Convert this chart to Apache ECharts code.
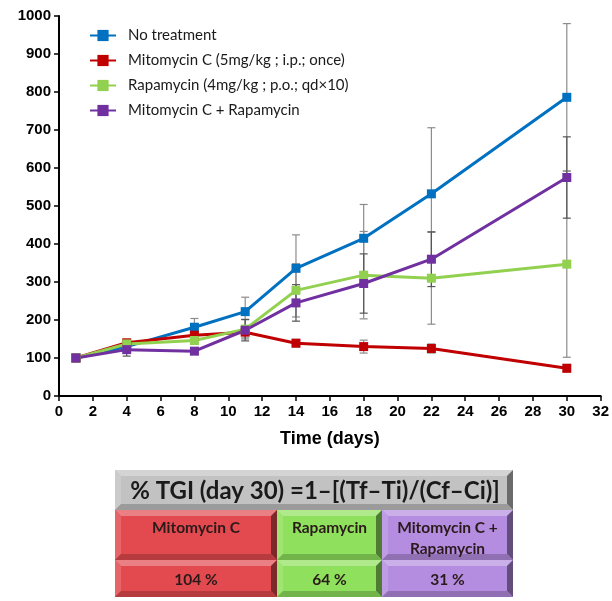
<!DOCTYPE html>
<html>
<head>
<meta charset="utf-8">
<script src="https://cdn.jsdelivr.net/npm/echarts@6/dist/echarts.min.js"></script>
<style>
html,body{margin:0;padding:0;background:#fff;}
#chart{width:612px;height:601px;}
</style>
</head>
<body>
<div id="chart"></div>
<script>
// ---- data ----
var days = [1, 4, 8, 11, 14, 18, 22, 30];
var seriesNames = ['No treatment', 'Mitomycin C (5mg/kg ; i.p.; once)', 'Rapamycin (4mg/kg ; p.o.; qd×10)', 'Mitomycin C + Rapamycin'];
var noTreatment = [100, 130, 181, 222, 336, 415, 532, 786];
var noTreatmentErr = [0, 8, 23, 38, 88, 89, 174, 194];
var mitomycin = [100, 140, 160, 168, 139, 130, 125, 73];
var mitomycinErr = [0, 5, 10, 15, 10, 17, 12, 10];
var rapamycin = [100, 137, 146, 176, 278, 318, 310, 347];
var rapamycinErr = [0, 6, 10, 26, 70, 115, 121, 245];
var combo = [100, 122, 118, 173, 245, 296, 360, 575];
var comboErr = [0, 17, 8, 28, 48, 78, 72, 107];
var xTicks = [0, 32, 2];
var yTicks = [0, 1000, 100];
var xTitle = 'Time (days)';
var tableTitle = '% TGI (day 30) =1\u2013[(Tf\u2013Ti)/(Cf\u2013Ci)]';
var tableHeads = [['Mitomycin C'], ['Rapamycin'], ['Mitomycin C +', 'Rapamycin']];
var tableValues = ['104 %', '64 %', '31 %'];

var colors = ['#0070c0', '#c00000', '#92d050', '#7030a0'];
var errColors = ['#8c8c8c', '#8c8c8c', '#8c8c8c', '#555555'];
var means = [noTreatment, mitomycin, rapamycin, combo];
var errs = [noTreatmentErr, mitomycinErr, rapamycinErr, comboErr];

function pairs(v) { return days.map(function (d, i) { return [d, v[i]]; }); }
function errData(v, e) { return days.map(function (d, i) { return [d, v[i] - e[i], v[i] + e[i]]; }); }

var series = [];
means.forEach(function (m, k) {
  series.push({
    type: 'custom',
    z: 1,
    silent: true,
    data: errData(m, errs[k]),
    renderItem: function (params, api) {
      var x = api.value(0);
      if (api.value(2) - api.value(1) <= 0) return null;
      var lo = api.coord([x, api.value(1)]);
      var hi = api.coord([x, api.value(2)]);
      var cw = 4;
      var st = { stroke: errColors[k], lineWidth: 1.2 };
      return {
        type: 'group',
        children: [
          { type: 'line', shape: { x1: lo[0], y1: lo[1], x2: hi[0], y2: hi[1] }, style: st },
          { type: 'line', shape: { x1: lo[0] - cw, y1: lo[1], x2: lo[0] + cw, y2: lo[1] }, style: st },
          { type: 'line', shape: { x1: hi[0] - cw, y1: hi[1], x2: hi[0] + cw, y2: hi[1] }, style: st }
        ]
      };
    }
  });
});
means.forEach(function (m, k) {
  series.push({
    name: seriesNames[k],
    type: 'line',
    z: 3,
    data: pairs(m),
    symbol: 'rect',
    symbolSize: 9,
    showAllSymbol: true,
    lineStyle: { color: colors[k], width: 3 },
    itemStyle: { color: colors[k] }
  });
});

// ---- table (beveled cells) ----
function shade(hex, f) {
  var n = parseInt(hex.slice(1), 16);
  var r = (n >> 16) & 255, g = (n >> 8) & 255, b = n & 255;
  function c(v) { return Math.max(0, Math.min(255, Math.round(f > 0 ? v + (255 - v) * f : v * (1 + f)))); }
  return 'rgb(' + c(r) + ',' + c(g) + ',' + c(b) + ')';
}
function bevelCell(x, y, w, h, col, bv) {
  var els = [];
  els.push({ type: 'rect', shape: { x: x, y: y, width: w, height: h }, style: { fill: col } });
  els.push({ type: 'polygon', shape: { points: [[x, y], [x + w, y], [x + w - bv, y + bv], [x + bv, y + bv]] }, style: { fill: shade(col, 0.3) } });
  els.push({ type: 'polygon', shape: { points: [[x, y], [x + bv, y + bv], [x + bv, y + h - bv], [x, y + h]] }, style: { fill: shade(col, 0.15) } });
  els.push({ type: 'polygon', shape: { points: [[x + w, y], [x + w, y + h], [x + w - bv, y + h - bv], [x + w - bv, y + bv]] }, style: { fill: shade(col, -0.45) } });
  els.push({ type: 'polygon', shape: { points: [[x, y + h], [x + bv, y + h - bv], [x + w - bv, y + h - bv], [x + w, y + h]] }, style: { fill: shade(col, -0.2) } });
  return els;
}
var graphics = [];
var tX = 115, tY = 470, tW = 398, hH = 40;
var colX = [115, 277, 382, 513];
var rowY = [510, 560, 597];
var cellCols = ['#e24a4f', '#8fe05c', '#b48ce0'];
graphics = graphics.concat(bevelCell(tX, tY, tW, hH, '#c2c2c2', 6));
graphics.push({ type: 'text', x: tX + tW / 2 + 1, y: tY + hH / 2 + 1, style: { text: tableTitle, font: 'bold 24px Lato', fill: '#1a1a1a', align: 'center', verticalAlign: 'middle' } });
for (var i = 0; i < 3; i++) {
  for (var r = 0; r < 2; r++) {
    graphics = graphics.concat(bevelCell(colX[i], rowY[r], colX[i + 1] - colX[i], rowY[r + 1] - rowY[r], cellCols[i], 6));
  }
  var cx = (colX[i] + colX[i + 1]) / 2;
  tableHeads[i].forEach(function (t, j) {
    graphics.push({ type: 'text', x: cx, y: 528 + j * 21, style: { text: t, font: 'bold 15.5px Lato', fill: '#2a1a1a', align: 'center', verticalAlign: 'middle' } });
  });
  graphics.push({ type: 'text', x: cx, y: 580, style: { text: tableValues[i], font: 'bold 15.5px Lato', fill: '#2a1a1a', align: 'center', verticalAlign: 'middle' } });
}

var chart = echarts.init(document.getElementById('chart'), null, { renderer: 'canvas' });
chart.setOption({
  animation: false,
  backgroundColor: '#ffffff',
  grid: { left: 59, right: 11, top: 16, bottom: 205, containLabel: false },
  legend: {
    orient: 'vertical',
    left: 84,
    top: 23,
    itemGap: 10,
    itemWidth: 26,
    itemHeight: 14,
    textStyle: { fontFamily: 'Lato', fontSize: 15, color: '#1a1a1a', padding: [0, 0, 0, 7] },
    data: seriesNames
  },
  xAxis: {
    type: 'value',
    min: xTicks[0], max: xTicks[1], interval: xTicks[2],
    name: xTitle,
    nameLocation: 'middle',
    nameGap: 34,
    nameTextStyle: { fontFamily: 'Liberation Sans', fontWeight: 'bold', fontSize: 18, color: '#000' },
    axisLine: { lineStyle: { color: '#000', width: 2 } },
    axisTick: { show: true, inside: false, length: 5, lineStyle: { color: '#000', width: 1.5 } },
    axisLabel: { fontFamily: 'Liberation Sans', fontWeight: 'bold', fontSize: 15, color: '#000', margin: 8 },
    splitLine: { show: false }
  },
  yAxis: {
    type: 'value',
    min: yTicks[0], max: yTicks[1], interval: yTicks[2],
    axisLine: { show: true, lineStyle: { color: '#000', width: 2 } },
    axisTick: { show: true, inside: false, length: 5, lineStyle: { color: '#000', width: 1.5 } },
    axisLabel: { fontFamily: 'Liberation Sans', fontWeight: 'bold', fontSize: 15, color: '#000', margin: 8, formatter: function (v) { return String(v); } },
    splitLine: { show: false }
  },
  series: series,
  graphic: graphics
});
</script>
</body>
</html>
